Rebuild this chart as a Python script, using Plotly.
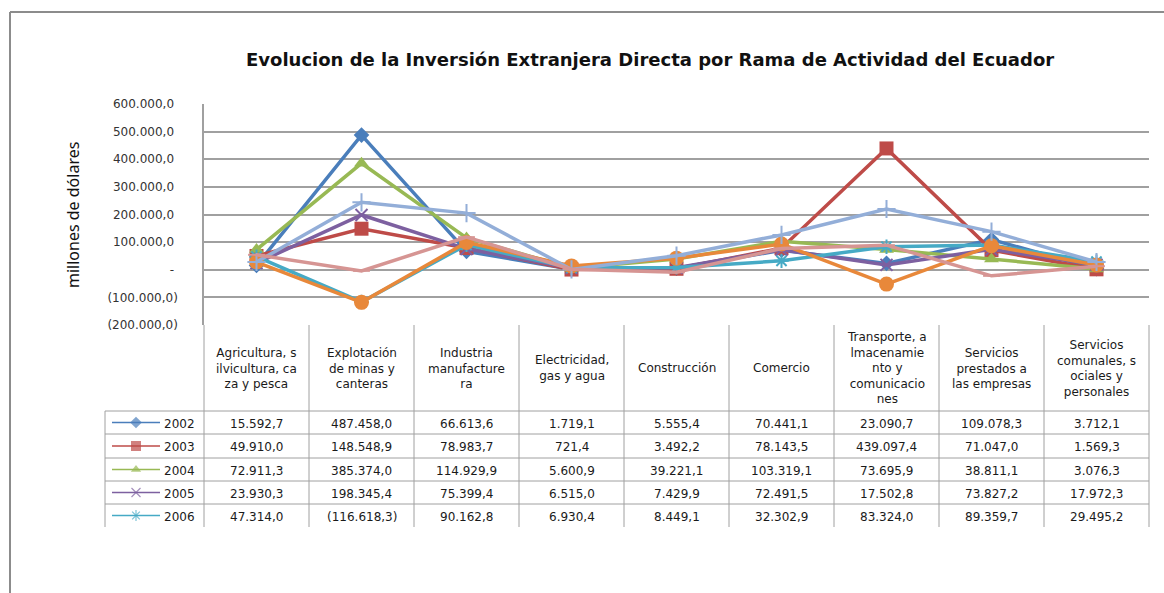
import plotly.graph_objects as go

# datos (miles de dolares, tal como aparece en la tabla)
categorias = [
    "Agricultura, s<br>ilvicultura, ca<br>za y pesca",
    "Explotación<br>de minas y<br>canteras",
    "Industria<br>manufacture<br>ra",
    "Electricidad,<br>gas y agua",
    "Construcción",
    "Comercio",
    "Transporte, a<br>lmacenamie<br>nto y<br>comunicacio<br>nes",
    "Servicios<br>prestados a<br>las empresas",
    "Servicios<br>comunales, s<br>ociales y<br>personales",
]
anios = ["2002", "2003", "2004", "2005", "2006", "2007", "2008", "2009"]

v2002 = [15592.7, 487458.0, 66613.6, 1719.1, 5555.4, 70441.1, 23090.7, 109078.3, 3712.1]
v2003 = [49910.0, 148548.9, 78983.7, 721.4, 3492.2, 78143.5, 439097.4, 71047.0, 1569.3]
v2004 = [72911.3, 385374.0, 114929.9, 5600.9, 39221.1, 103319.1, 73695.9, 38811.1, 3076.3]
v2005 = [23930.3, 198345.4, 75399.4, 6515.0, 7429.9, 72491.5, 17502.8, 73827.2, 17972.3]
v2006 = [47314.0, -116618.3, 90162.8, 6930.4, 8449.1, 32302.9, 83324.0, 89359.7, 29495.2]
# series sin fila visible en la tabla
v2007 = [28000.0, -118000.0, 99000.0, 14000.0, 42000.0, 93000.0, -52000.0, 87000.0, 17000.0]
v2008 = [28000.0, 244000.0, 205000.0, 1000.0, 51000.0, 126000.0, 220000.0, 138000.0, 28000.0]
v2009 = [54000.0, -4000.0, 118000.0, 2000.0, -9000.0, 77000.0, 89000.0, -22000.0, 13000.0]
series = [v2002, v2003, v2004, v2005, v2006, v2007, v2008, v2009]

ticks_y = [-200000, -100000, 0, 100000, 200000, 300000, 400000, 500000, 600000]

colores = ["#4A7EBB", "#BE4B48", "#98B954", "#7D60A0", "#46AAC5", "#E8883A", "#93AED8", "#D69593"]
simbolos = ["diamond", "square", "triangle-up", "x-thin-open", "asterisk-open",
            "circle", "cross-thin-open", "line-ew-open"]
tamanos = [12, 14, 13, 12, 12, 15, 13, 12]

W, H = 1164, 593
X0, X1 = 204, 1149      # area de trazado (px)
Y0, Y1 = 104, 325
FILAS = [411, 434, 458, 481, 504, 527]
GRIS = "#A0A0A0"
FUENTE = "DejaVu Sans"


def fmt(v):
    s = f"{abs(v):,.1f}".replace(",", "#").replace(".", ",").replace("#", ".")
    return f"({s})" if v < 0 else s


def fmt_tick(v):
    if v == 0:
        return "-\u00a0"
    return fmt(v) if v < 0 else fmt(v) + "\u00a0"


fig = go.Figure()

for i, vals in enumerate(series):
    sym = simbolos[i]
    thin = sym.endswith("-open")
    fig.add_trace(go.Scatter(
        x=list(range(len(categorias))), y=vals, name=anios[i], mode="lines+markers",
        line=dict(color=colores[i], width=3.5),
        marker=dict(symbol=sym, size=tamanos[i], color=colores[i],
                    line=dict(color=colores[i], width=2 if thin else 0)),
        xaxis="x", yaxis="y", showlegend=False,
    ))

# muestras de leyenda dentro de la tabla
for i in range(5):
    yc = (FILAS[i] + FILAS[i + 1]) / 2
    sym = simbolos[i]
    thin = sym.endswith("-open")
    fig.add_trace(go.Scatter(
        x=[112, 136, 160], y=[yc, yc, yc], mode="lines+markers",
        line=dict(color=colores[i], width=1.5),
        marker=dict(symbol=sym, size=[0, 9 if i != 1 else 10, 0], color=colores[i],
                    line=dict(color=colores[i], width=1.2 if thin else 0)),
        xaxis="x2", yaxis="y2", showlegend=False, hoverinfo="skip",
    ))

shapes = []
anots = []


def linea(xa, ya, xb, yb, color=GRIS, w=1):
    shapes.append(dict(type="line", xref="x2", yref="y2", x0=xa, y0=ya, x1=xb, y1=yb,
                       line=dict(color=color, width=w)))


# marco exterior
linea(10, 12, 1170, 12, "#8C8C8C", 2)
linea(10, 12, 10, 600, "#8C8C8C", 2)

# tabla de datos
ancho = (X1 - X0) / len(categorias)
for k in range(len(categorias) + 1):
    linea(X0 + k * ancho, Y1, X0 + k * ancho, FILAS[-1])
linea(105, FILAS[0], 105, FILAS[-1])
for yy in FILAS[:-1]:
    linea(105, yy, X1, yy)

for k, cat in enumerate(categorias):
    xc = X0 + (k + 0.5) * ancho
    anots.append(dict(xref="x2", yref="y2", x=xc, y=(Y1 + FILAS[0]) / 2, text=cat,
                      showarrow=False, font=dict(family=FUENTE, size=12, color="#1A1A1A"),
                      xanchor="center", yanchor="middle"))
    for i in range(5):
        anots.append(dict(xref="x2", yref="y2", x=xc, y=(FILAS[i] + FILAS[i + 1]) / 2 + 1,
                          text=fmt(series[i][k]), showarrow=False,
                          font=dict(family=FUENTE, size=12, color="#1A1A1A"),
                          xanchor="center", yanchor="middle"))

for i in range(5):
    anots.append(dict(xref="x2", yref="y2", x=162, y=(FILAS[i] + FILAS[i + 1]) / 2 + 1,
                      text=anios[i], showarrow=False,
                      font=dict(family=FUENTE, size=12, color="#1A1A1A"),
                      xanchor="left", yanchor="middle"))

# titulos
anots.append(dict(xref="x2", yref="y2", x=650, y=59, showarrow=False,
                  text="<b>Evolucion de la Inversión Extranjera Directa por Rama de Actividad del Ecuador</b>",
                  font=dict(family="DejaVu Sans", size=18, color="#111111"),
                  xanchor="center", yanchor="middle"))
anots.append(dict(xref="x2", yref="y2", x=73, y=215, showarrow=False, textangle=-90,
                  text="millones de dólares",
                  font=dict(family="Noto Sans", size=16, color="#111111"),
                  xanchor="center", yanchor="middle"))

fig.update_layout(
    width=W, height=H,
    margin=dict(l=0, r=0, t=0, b=0, autoexpand=False),
    paper_bgcolor="white", plot_bgcolor="rgba(0,0,0,0)",
    xaxis=dict(domain=[X0 / W, X1 / W], range=[-0.5, len(categorias) - 0.5],
               showgrid=False, zeroline=False, showticklabels=False, anchor="y",
               automargin=False),
    yaxis=dict(domain=[1 - Y1 / H, 1 - Y0 / H], range=[-200000, 600000],
               tickvals=ticks_y, ticktext=[fmt_tick(v) for v in ticks_y],
               showgrid=True, gridcolor=GRIS, gridwidth=1.5, zeroline=False,
               showline=True, linecolor=GRIS, linewidth=1.5, ticks="",
               ticklabelstandoff=22, automargin=False,
               tickfont=dict(family=FUENTE, size=12, color="#333333"), anchor="x"),
    xaxis2=dict(domain=[0, 1], range=[0, W], visible=False, anchor="y2", fixedrange=True),
    yaxis2=dict(domain=[0, 1], range=[H, 0], visible=False, anchor="x2", fixedrange=True),
    shapes=shapes,
    annotations=anots,
)

fig.write_html("out.html", post_script="document.body.style.margin='0';",
               config={"displayModeBar": False})
